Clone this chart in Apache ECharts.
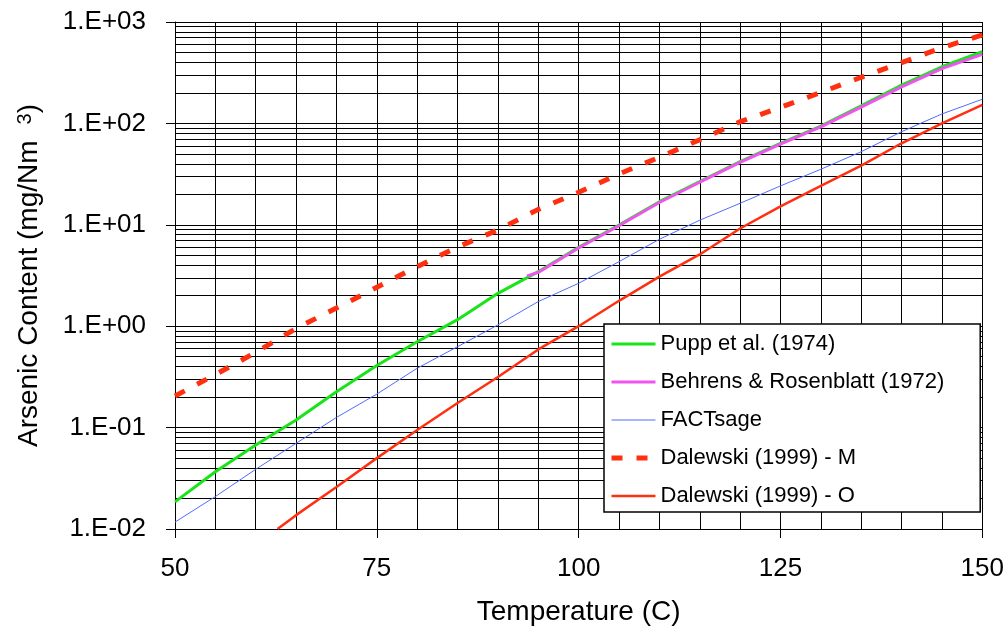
<!DOCTYPE html>
<html>
<head>
<meta charset="utf-8">
<script src="https://cdn.jsdelivr.net/npm/echarts@6/dist/echarts.min.js"></script>
<style>
html, body { margin: 0; padding: 0; background: #fff; }
#chart { width: 1007px; height: 635px; }
</style>
</head>
<body>
<div id="chart"></div>
<script>
// temperatures (C)
var temps = [50, 55, 60, 65, 70, 75, 80, 85, 90, 95, 100, 105, 110, 115, 120, 125, 130, 135, 140, 145, 150];
var behrensTemps = [93.6, 95, 100, 105, 110, 115, 120, 125, 130, 135, 140, 145, 150];
var dalewskiOTemps = [62.7, 65, 70, 75, 80, 85, 90, 95, 100, 105, 110, 115, 120, 125, 130, 135, 140, 145, 150];

// arsenic content (mg/Nm3)
var pupp = [0.0185, 0.0367, 0.0673, 0.119, 0.226, 0.409, 0.703, 1.16, 2.11, 3.45, 6.0, 9.95, 16.9, 26.6, 41.9, 63.7, 94.2, 149, 239, 362, 509];
var behrens = [3.13, 3.39, 5.9, 9.8, 16.6, 26.3, 41.2, 62.4, 92.3, 145, 229, 347, 480];
var factsage = [0.0117, 0.0209, 0.0388, 0.070, 0.126, 0.214, 0.385, 0.628, 1.03, 1.75, 2.65, 4.33, 7.2, 11.1, 16.3, 24.2, 35.3, 52.6, 82.8, 124, 173];
var dalewskiM = [0.205, 0.333, 0.552, 0.95, 1.51, 2.42, 3.87, 6.04, 8.9, 14.2, 20.9, 31.7, 46.4, 69, 104, 144, 202, 285, 397, 558, 745];
var dalewskiO = [0.01, 0.0137, 0.026, 0.050, 0.0946, 0.175, 0.316, 0.59, 1.0, 1.78, 3.08, 5.1, 9.2, 15.2, 24.2, 38.3, 63.7, 100, 152];

var decades = [0.01, 0.1, 1, 10, 100];
var minorSteps = [2, 3, 4, 5, 6, 7, 8, 9];

function pairs(xs, ys) {
    return xs.map(function (x, i) { return [x, ys[i]]; });
}

function expLabel(v) {
    var e = Math.round(Math.log(v) / Math.LN10);
    var a = Math.abs(e);
    return '1.E' + (e < 0 ? '-' : '+') + (a < 10 ? '0' : '') + a;
}

// minor log grid lines (2..9 in every decade)
var minorLines = [];
decades.forEach(function (d) {
    minorSteps.forEach(function (k) {
        minorLines.push({ yAxis: k * d });
    });
});

var font = 'Liberation Sans, Arial, sans-serif';

var dom = document.getElementById('chart');
var myChart = echarts.init(dom);
var option = {
    animation: false,
    backgroundColor: '#fff',
    grid: { left: 175, right: 22, top: 22, bottom: 106 },
    legend: {
        orient: 'vertical',
        left: 604,
        top: 324,
        z: 20,
        padding: [9, 36, 5, 5],
        itemWidth: 44,
        itemHeight: 14,
        itemGap: 16,
        backgroundColor: '#fff',
        borderColor: '#000',
        borderWidth: 1.5,
        borderRadius: 0,
        itemStyle: { color: 'rgba(0,0,0,0)', borderWidth: 0, opacity: 0 },
        lineStyle: { width: 'inherit' },
        textStyle: { fontFamily: font, fontSize: 22, color: '#000' },
        data: ['Pupp et al. (1974)', 'Behrens & Rosenblatt (1972)', 'FACTsage', 'Dalewski (1999) - M', 'Dalewski (1999) - O']
    },
    xAxis: {
        type: 'value',
        min: 50,
        max: 150,
        interval: 25,
        name: 'Temperature (C)',
        nameLocation: 'middle',
        nameGap: 69,
        nameTextStyle: { fontFamily: font, fontSize: 28, color: '#000' },
        axisLine: { lineStyle: { color: '#000', width: 1 } },
        axisTick: { show: true, inside: false, length: 9, lineStyle: { color: '#000' } },
        axisLabel: { fontFamily: font, fontSize: 26, color: '#000', margin: 27 },
        splitLine: { show: true, lineStyle: { color: '#000', width: 1 } },
        minorTick: { show: false, splitNumber: 5 },
        minorSplitLine: { show: true, lineStyle: { color: '#000', width: 1 } }
    },
    yAxis: {
        type: 'log',
        logBase: 10,
        min: 0.01,
        max: 1000,
        name: 'Arsenic Content (mg/Nm{sup|3})',
        nameLocation: 'middle',
        nameGap: 132,
        nameTextStyle: {
            fontFamily: font, fontSize: 28, color: '#000',
            rich: {
                sup: { fontFamily: font, fontSize: 20, color: '#000', verticalAlign: 'top', padding: [0, 0, 6, 16] }
            }
        },
        axisLine: { show: true, lineStyle: { color: '#000', width: 1 } },
        axisTick: { show: true, inside: false, length: 9, lineStyle: { color: '#000' } },
        axisLabel: { fontFamily: font, fontSize: 26, color: '#000', margin: 29, formatter: expLabel },
        splitLine: { show: true, lineStyle: { color: '#000', width: 1 } },
        minorSplitLine: { show: false }
    },
    series: [
        {
            name: 'grid',
            type: 'line',
            data: [],
            silent: true,
            z: 1,
            markLine: {
                silent: true,
                z: 1,
                symbol: 'none',
                label: { show: false },
                lineStyle: { color: '#000', width: 1, type: 'solid' },
                data: minorLines
            }
        },
        {
            name: 'Pupp et al. (1974)',
            type: 'line',
            data: pairs(temps, pupp),
            showSymbol: false,
            z: 3,
            lineStyle: { color: '#18e418', width: 3 },
            itemStyle: { color: '#18e418' }
        },
        {
            name: 'Behrens & Rosenblatt (1972)',
            type: 'line',
            data: pairs(behrensTemps, behrens),
            showSymbol: false,
            z: 4,
            lineStyle: { color: '#ee55ee', width: 3 },
            itemStyle: { color: '#ee55ee' }
        },
        {
            name: 'FACTsage',
            type: 'line',
            data: pairs(temps, factsage),
            showSymbol: false,
            z: 3,
            lineStyle: { color: '#4f6dff', width: 1 },
            itemStyle: { color: '#4f6dff' }
        },
        {
            name: 'Dalewski (1999) - M',
            type: 'line',
            data: pairs(temps, dalewskiM),
            showSymbol: false,
            z: 3,
            lineStyle: { color: '#ff3010', width: 5, type: [11, 14] },
            itemStyle: { color: '#ff3010' }
        },
        {
            name: 'Dalewski (1999) - O',
            type: 'line',
            data: pairs(dalewskiOTemps, dalewskiO),
            showSymbol: false,
            z: 3,
            lineStyle: { color: '#ff3010', width: 2.5 },
            itemStyle: { color: '#ff3010' }
        }
    ]
};
myChart.setOption(option, true);

window.onresize = function () {
    myChart.resize();
};
</script>
</body>
</html>
